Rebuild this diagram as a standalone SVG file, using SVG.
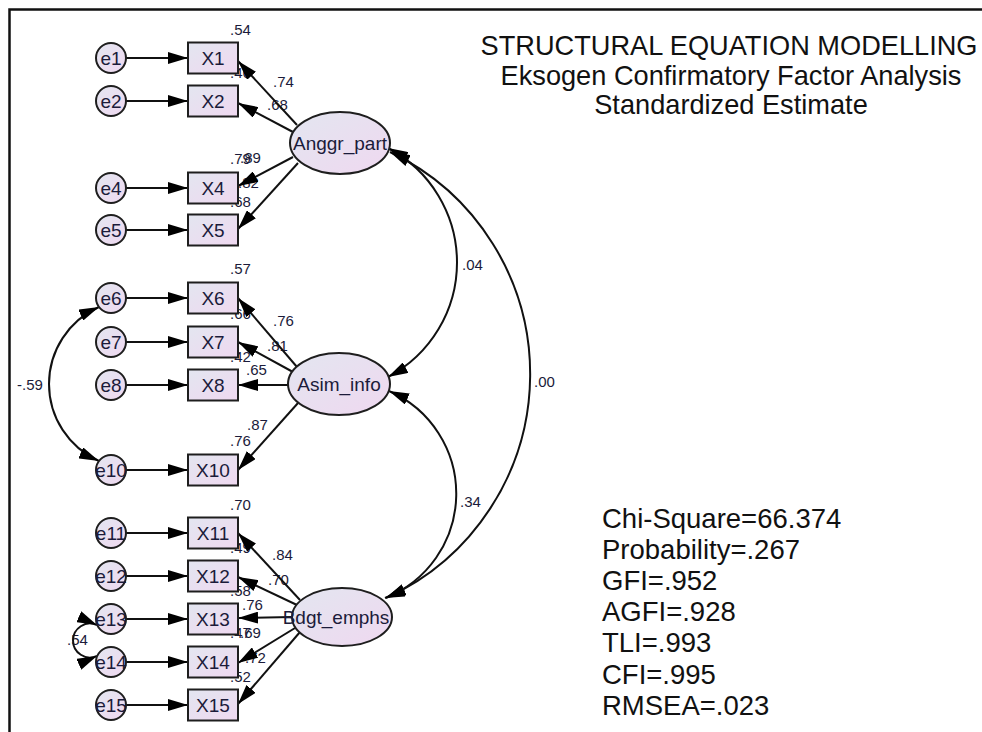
<svg xmlns="http://www.w3.org/2000/svg" width="982" height="732" viewBox="0 0 982 732">
<style>
  .shape { fill: url(#fillg); stroke: #1e1e1e; stroke-width: 2; }
  .lbl { font-family: "Liberation Sans", Arial, sans-serif; font-size: 19px; fill: #1b1b3a; text-anchor: middle; }
  .num { font-family: "Liberation Sans", Arial, sans-serif; font-size: 15px; fill: #1b1b3a; }
  .big { font-family: "Liberation Sans", Arial, sans-serif; font-size: 27.2px; fill: #111; }
  .stat { font-family: "Liberation Sans", Arial, sans-serif; font-size: 27.5px; fill: #111; }
  .conn { stroke: #111; stroke-width: 2; fill: none; marker-end: url(#ah); }
  .cov { stroke: #111; stroke-width: 2; fill: none; marker-start: url(#ah); marker-end: url(#ah); }
  .frame { stroke: #111; stroke-width: 2.5; fill: none; }
</style>
<defs>
  <linearGradient id="fillg" x1="0" y1="0" x2="1" y2="1">
    <stop offset="0" stop-color="#e3e6f0"/>
    <stop offset="1" stop-color="#efd8f0"/>
  </linearGradient>
  <marker id="ah" viewBox="0 0 20 12" refX="20" refY="6" markerWidth="20" markerHeight="12" markerUnits="userSpaceOnUse" orient="auto-start-reverse">
    <path d="M0,0 L20,6 L0,12 z" fill="#000"/>
  </marker>
</defs>
<rect x="0" y="0" width="982" height="732" fill="#fff"/>
<path class="frame" d="M9.5,732 L9.5,9.5 L982,9.5"/>

<!-- title -->
<g id="title">
  <text class="big" x="729" y="55" text-anchor="middle">STRUCTURAL EQUATION MODELLING</text>
  <text class="big" x="731" y="85" text-anchor="middle">Eksogen Confirmatory Factor Analysis</text>
  <text class="big" x="731" y="114" text-anchor="middle">Standardized Estimate</text>
</g>

<!-- fit statistics -->
<g id="fit">
  <text class="stat" x="602" y="528">Chi-Square=66.374</text>
  <text class="stat" x="602" y="559">Probability=.267</text>
  <text class="stat" x="602" y="590">GFI=.952</text>
  <text class="stat" x="602" y="621">AGFI=.928</text>
  <text class="stat" x="602" y="652">TLI=.993</text>
  <text class="stat" x="602" y="684">CFI=.995</text>
  <text class="stat" x="602" y="715">RMSEA=.023</text>
</g>

<!-- estimate labels -->
<g id="estimates">
  <text class="num" x="230" y="35">.54</text>
  <text class="num" x="230" y="78">.46</text>
  <text class="num" x="273" y="87">.74</text>
  <text class="num" x="267" y="110">.68</text>
  <text class="num" x="230" y="164">.79</text>
  <text class="num" x="240" y="163">.89</text>
  <text class="num" x="238" y="188">.82</text>
  <text class="num" x="230" y="207">.68</text>

  <text class="num" x="230" y="274">.57</text>
  <text class="num" x="230" y="319">.66</text>
  <text class="num" x="273" y="326">.76</text>
  <text class="num" x="267" y="351">.81</text>
  <text class="num" x="230" y="362">.42</text>
  <text class="num" x="246" y="375">.65</text>
  <text class="num" x="247" y="430">.87</text>
  <text class="num" x="230" y="446">.76</text>

  <text class="num" x="230" y="510">.70</text>
  <text class="num" x="272" y="560">.84</text>
  <text class="num" x="230" y="553">.49</text>
  <text class="num" x="268" y="585">.70</text>
  <text class="num" x="230" y="596">.58</text>
  <text class="num" x="242" y="610">.76</text>
  <text class="num" x="230" y="638">.47</text>
  <text class="num" x="240" y="638">.69</text>
  <text class="num" x="245" y="663">.72</text>
  <text class="num" x="230" y="682">.52</text>

  <text class="num" x="17" y="390">-.59</text>
  <text class="num" x="67" y="645">.54</text>
  <text class="num" x="462" y="270">.04</text>
  <text class="num" x="534" y="387">.00</text>
  <text class="num" x="460" y="507">.34</text>
</g>

<!-- connectors -->
<g id="connectors">
  <!-- error to indicator -->
  <line class="conn" x1="126" y1="58" x2="188" y2="58"/>
  <line class="conn" x1="126" y1="101" x2="188" y2="101"/>
  <line class="conn" x1="126" y1="188" x2="188" y2="188"/>
  <line class="conn" x1="126" y1="230" x2="188" y2="230"/>
  <line class="conn" x1="126" y1="298" x2="188" y2="298"/>
  <line class="conn" x1="126" y1="342" x2="188" y2="342"/>
  <line class="conn" x1="126" y1="385" x2="188" y2="385"/>
  <line class="conn" x1="126" y1="470" x2="188" y2="470"/>
  <line class="conn" x1="126" y1="533" x2="188" y2="533"/>
  <line class="conn" x1="126" y1="576" x2="188" y2="576"/>
  <line class="conn" x1="126" y1="619" x2="188" y2="619"/>
  <line class="conn" x1="126" y1="662" x2="188" y2="662"/>
  <line class="conn" x1="126" y1="705" x2="188" y2="705"/>
  <!-- Anggr_part loadings -->
  <line class="conn" x1="297" y1="125" x2="238" y2="61"/>
  <line class="conn" x1="293" y1="132" x2="238" y2="103"/>
  <line class="conn" x1="293" y1="157" x2="238" y2="186"/>
  <line class="conn" x1="298" y1="163" x2="238" y2="229"/>
  <!-- Asim_info loadings -->
  <line class="conn" x1="297" y1="367" x2="238" y2="298"/>
  <line class="conn" x1="293" y1="372" x2="238" y2="342"/>
  <line class="conn" x1="288" y1="385" x2="238" y2="385"/>
  <line class="conn" x1="298" y1="403" x2="238" y2="470"/>
  <!-- Bdgt_emphs loadings -->
  <line class="conn" x1="300" y1="600" x2="238" y2="533"/>
  <line class="conn" x1="297" y1="605" x2="238" y2="577"/>
  <line class="conn" x1="292" y1="617" x2="238" y2="618"/>
  <line class="conn" x1="295" y1="628" x2="238" y2="663"/>
  <line class="conn" x1="300" y1="632" x2="238" y2="704"/>
  <!-- covariances -->
  <path class="cov" d="M388,148 A129.5,129.5 0 0,1 388,377"/>
  <path class="cov" d="M390,152 A246,246 0 0,1 386,598"/>
  <path class="cov" d="M389,391 A112,112 0 0,1 385,598"/>
  <path class="cov" d="M99,307 A84.3,84.3 0 0,0 99,461"/>
  <path class="cov" d="M97,625 A17,17 0 1,0 97,656"/>
</g>

<!-- latent variables -->
<g id="Anggr_part"><ellipse class="shape" cx="340" cy="143" rx="50" ry="31"/><text class="lbl" x="340" y="150">Anggr_part</text></g>
<g id="Asim_info"><ellipse class="shape" cx="339" cy="384" rx="51" ry="31"/><text class="lbl" x="339" y="391">Asim_info</text></g>
<g id="Bdgt_emphs"><ellipse class="shape" cx="342" cy="617" rx="50" ry="29"/><text class="lbl" x="336" y="624">Bdgt_emphs</text></g>

<!-- indicators -->
<g id="X1"><rect class="shape" x="188" y="42.5" width="50" height="31"/><text class="lbl" x="213" y="65">X1</text></g>
<g id="X2"><rect class="shape" x="188" y="85.5" width="50" height="31"/><text class="lbl" x="213" y="108">X2</text></g>
<g id="X4"><rect class="shape" x="188" y="172.5" width="50" height="31"/><text class="lbl" x="213" y="195">X4</text></g>
<g id="X5"><rect class="shape" x="188" y="214.5" width="50" height="31"/><text class="lbl" x="213" y="237">X5</text></g>
<g id="X6"><rect class="shape" x="188" y="282.5" width="50" height="31"/><text class="lbl" x="213" y="305">X6</text></g>
<g id="X7"><rect class="shape" x="188" y="326.5" width="50" height="31"/><text class="lbl" x="213" y="349">X7</text></g>
<g id="X8"><rect class="shape" x="188" y="369.5" width="50" height="31"/><text class="lbl" x="213" y="392">X8</text></g>
<g id="X10"><rect class="shape" x="188" y="454.5" width="50" height="31"/><text class="lbl" x="213" y="477">X10</text></g>
<g id="X11"><rect class="shape" x="188" y="517.5" width="50" height="31"/><text class="lbl" x="213" y="540">X11</text></g>
<g id="X12"><rect class="shape" x="188" y="560.5" width="50" height="31"/><text class="lbl" x="213" y="583">X12</text></g>
<g id="X13"><rect class="shape" x="188" y="603.5" width="50" height="31"/><text class="lbl" x="213" y="626">X13</text></g>
<g id="X14"><rect class="shape" x="188" y="646.5" width="50" height="31"/><text class="lbl" x="213" y="669">X14</text></g>
<g id="X15"><rect class="shape" x="188" y="689.5" width="50" height="31"/><text class="lbl" x="213" y="712">X15</text></g>

<!-- error terms -->
<g id="e1"><circle class="shape" cx="111" cy="58" r="15"/><text class="lbl" x="111" y="65">e1</text></g>
<g id="e2"><circle class="shape" cx="111" cy="101" r="15"/><text class="lbl" x="111" y="108">e2</text></g>
<g id="e4"><circle class="shape" cx="111" cy="188" r="15"/><text class="lbl" x="111" y="195">e4</text></g>
<g id="e5"><circle class="shape" cx="111" cy="230" r="15"/><text class="lbl" x="111" y="237">e5</text></g>
<g id="e6"><circle class="shape" cx="111" cy="298" r="15"/><text class="lbl" x="111" y="305">e6</text></g>
<g id="e7"><circle class="shape" cx="111" cy="342" r="15"/><text class="lbl" x="111" y="349">e7</text></g>
<g id="e8"><circle class="shape" cx="111" cy="385" r="15"/><text class="lbl" x="111" y="392">e8</text></g>
<g id="e10"><circle class="shape" cx="111" cy="470" r="15"/><text class="lbl" x="111" y="477">e10</text></g>
<g id="e11"><circle class="shape" cx="111" cy="533" r="15"/><text class="lbl" x="111" y="540">e11</text></g>
<g id="e12"><circle class="shape" cx="111" cy="576" r="15"/><text class="lbl" x="111" y="583">e12</text></g>
<g id="e13"><circle class="shape" cx="111" cy="619" r="15"/><text class="lbl" x="111" y="626">e13</text></g>
<g id="e14"><circle class="shape" cx="111" cy="662" r="15"/><text class="lbl" x="111" y="669">e14</text></g>
<g id="e15"><circle class="shape" cx="111" cy="705" r="15"/><text class="lbl" x="111" y="712">e15</text></g>
</svg>
